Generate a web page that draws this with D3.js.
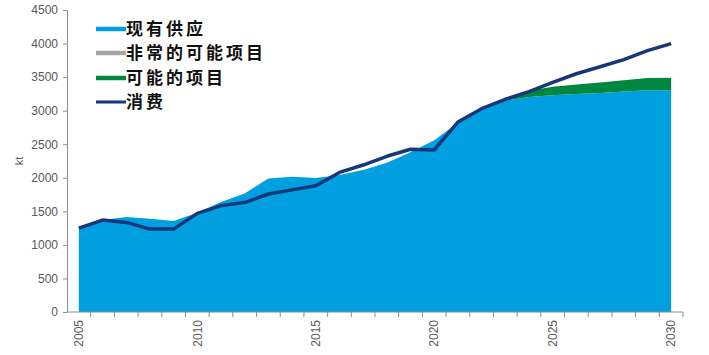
<!DOCTYPE html>
<html>
<head>
<meta charset="utf-8">
<script src="https://cdn.jsdelivr.net/npm/d3@7"></script>
<style>
  html, body { margin: 0; padding: 0; background: #fff; }
  svg { display: block; }
</style>
</head>
<body>
<svg id="chart" width="709" height="355"></svg>
<script>
const years = d3.range(2005, 2031);
const tickYears = [2005, 2010, 2015, 2020, 2025, 2030];
const yTicks = [0, 500, 1000, 1500, 2000, 2500, 3000, 3500, 4000, 4500];
const seriesNames = ["现有供应", "非常的可能项目", "可能的项目", "消费"];
const seriesColors = ["#009FDF", "#A6A6A6", "#00873F", "#17377A"];

const existingSupply = [1270, 1370, 1415, 1390, 1355, 1480, 1640, 1765, 1990, 2015, 1995, 2040, 2115, 2225, 2380, 2560, 2820, 3010, 3150, 3205, 3230, 3250, 3265, 3285, 3305, 3305];
const veryPossible   = [0, 0, 0, 0, 0, 0, 0, 0, 0, 0, 0, 0, 0, 0, 0, 0, 0, 0, 0, 0, 0, 0, 0, 0, 0, 0];
const possible       = [0, 0, 0, 0, 0, 0, 0, 0, 0, 0, 0, 0, 0, 0, 0, 0, 0, 0, 15, 90, 125, 140, 155, 170, 180, 185];
const consumption    = [1250, 1370, 1335, 1235, 1235, 1470, 1585, 1630, 1758, 1820, 1880, 2080, 2190, 2320, 2425, 2415, 2830, 3030, 3170, 3285, 3420, 3550, 3655, 3760, 3895, 4000];

const svg = d3.select("#chart");
const x = d3.scaleBand().domain(years).range([67, 683]).padding(0);
const cx = d => x(d) + x.bandwidth() / 2;
const y = d3.scaleLinear().domain([0, 4500]).range([312, 10]);

const rows = years.map((yr, i) => ({
  year: yr, supply: existingSupply[i], very: veryPossible[i], possible: possible[i]
}));
const stack = d3.stack().keys(["supply", "very", "possible"]);
const stacked = stack(rows);
const fills = [seriesColors[0], seriesColors[1], seriesColors[2]];

const area = d3.area()
  .x(d => cx(d.data.year))
  .y0(d => y(d[0]))
  .y1(d => y(d[1]));

svg.append("g").selectAll("path")
  .data(stacked)
  .join("path")
  .attr("d", area)
  .attr("fill", (d, i) => fills[i]);

const line = d3.line().x((d, i) => cx(years[i])).y(d => y(d));
svg.append("path")
  .datum(consumption)
  .attr("d", line)
  .attr("fill", "none")
  .attr("stroke", seriesColors[3])
  .attr("stroke-width", 3.5)
  .attr("stroke-linejoin", "round");

// Y axis
const yAxis = d3.axisLeft(y).tickValues(yTicks).tickFormat(d3.format("d"))
  .tickSize(4).tickSizeOuter(0).tickPadding(5);
const gy = svg.append("g").attr("transform", "translate(67,0)").call(yAxis);
gy.select(".domain").attr("stroke", "#8c8c8c");
gy.selectAll(".tick line").attr("stroke", "#8c8c8c");
gy.selectAll(".tick text")
  .attr("fill", "#595959")
  .style("font-family", "'Liberation Sans', Arial, sans-serif")
  .style("font-size", "12px");

// X axis
const gx = svg.append("g").attr("transform", "translate(0,312)");
gx.append("line").attr("x1", 67).attr("x2", 683).attr("y1", 0).attr("y2", 0).attr("stroke", "#8c8c8c");
gx.selectAll("line.tk")
  .data(years.map(yr => x(yr) + x.bandwidth()))
  .join("line")
  .attr("class", "tk")
  .attr("x1", d => d).attr("x2", d => d)
  .attr("y1", 0).attr("y2", 5)
  .attr("stroke", "#8c8c8c");
gx.selectAll("text")
  .data(tickYears)
  .join("text")
  .attr("transform", d => `translate(${cx(d)},8) rotate(-90)`)
  .attr("text-anchor", "end")
  .attr("dy", "0.35em")
  .attr("fill", "#595959")
  .style("font-family", "'Liberation Sans', Arial, sans-serif")
  .style("font-size", "12px")
  .text(d => d);

// Y label
svg.append("text")
  .attr("transform", "translate(23,161) rotate(-90)")
  .attr("text-anchor", "middle")
  .attr("fill", "#595959")
  .style("font-family", "'Liberation Sans', Arial, sans-serif")
  .style("font-size", "11px")
  .text("kt");

// Legend
const legendY = [29, 53, 78, 102];
const swW = [4.5, 4.5, 4.5, 3];
const lg = svg.append("g");
seriesNames.forEach((name, i) => {
  lg.append("line")
    .attr("x1", 96).attr("x2", 126)
    .attr("y1", legendY[i]).attr("y2", legendY[i])
    .attr("stroke", seriesColors[i])
    .attr("stroke-width", swW[i]);
  lg.append("text")
    .attr("x", 126).attr("y", legendY[i])
    .attr("dy", "0.36em")
    .attr("fill", "#111")
    .style("font-family", "'Noto Sans CJK SC', sans-serif")
    .style("font-size", "17px")
    .style("letter-spacing", "3px")
    .style("font-weight", "bold")
    .text(name);
});
</script>
</body>
</html>
